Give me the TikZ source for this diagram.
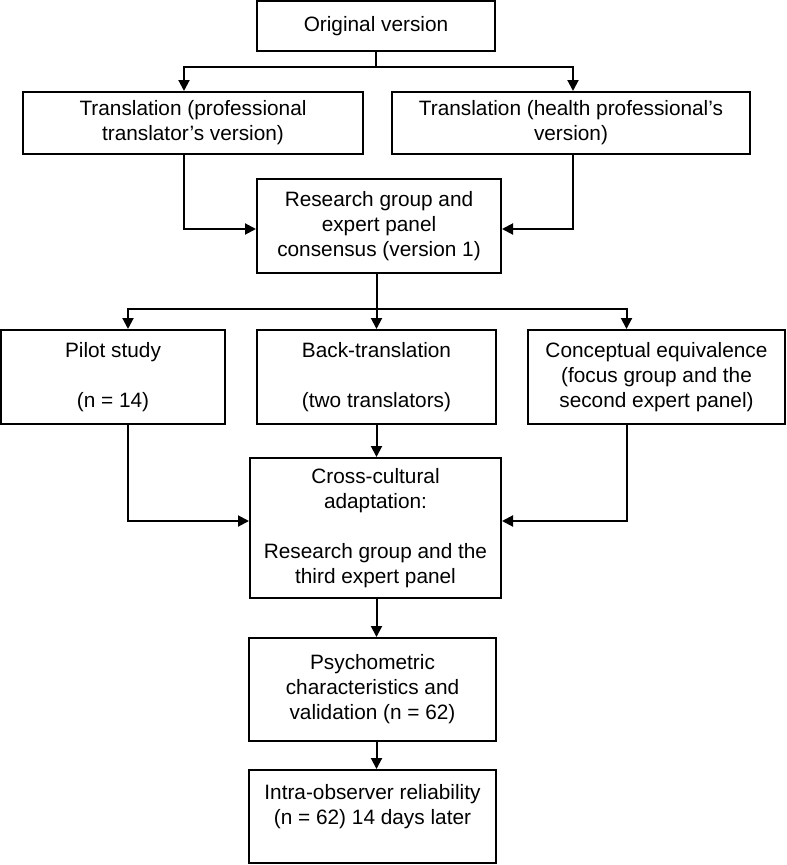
\documentclass[tikz,border=0pt]{standalone}
\usepackage{fontspec}
\setmainfont{Liberation Sans}
\usetikzlibrary{arrows.meta}
\begin{document}
\begin{tikzpicture}[x=1pt,y=-1pt,
  box/.style={draw, line width=2pt, align=center, inner sep=0pt, font=\fontsize{20.8}{25}\selectfont},
  arr/.style={line width=2pt, -{Triangle[length=11pt,width=11pt]}},
  ln/.style={line width=2pt}]
\useasboundingbox (0,0) rectangle (787,865);
\node[box, minimum width=238pt, minimum height=50pt] (orig) at (376,26) {\raisebox{5pt}{Original version}};
\node[box, minimum width=340pt, minimum height=62pt] (tl) at (193,123) {Translation (professional\\translator’s version)};
\node[box, minimum width=358pt, minimum height=62pt] (tr) at (571,123) {Translation (health professional’s\\version)};
\node[box, minimum width=244pt, minimum height=94pt] (res) at (379,226) {Research group and\\expert panel\\consensus (version 1)};
\node[box, minimum width=224pt, minimum height=94pt] (pilot) at (113,377) {Pilot study\\[25pt](n = 14)};
\node[box, minimum width=239pt, minimum height=94pt] (back) at (376.5,377) {Back-translation\\[25pt](two translators)};
\node[box, minimum width=257pt, minimum height=94pt] (conc) at (656.5,377) {Conceptual equivalence\\(focus group and the\\second expert panel)};
\node[box, minimum width=251pt, minimum height=140pt] (cross) at (375.5,528) {Cross-cultural\\adaptation:\\[25pt]Research group and the\\third expert panel};
\node[box, minimum width=247pt, minimum height=103pt] (psych) at (372.5,689.5) {Psychometric\\characteristics and\\validation (n = 62)};
\node[box, minimum width=247pt, minimum height=93pt] (intra) at (372.5,816.5) {Intra-observer reliability\\(n = 62) 14 days later\\~};
\coordinate (j1) at (376,67);
\coordinate (j2) at (376.5,309);
\coordinate (cx) at (376.5,0);
\draw[ln] (orig.south) -- (j1);
\draw[arr] (j1) -| ([xshift=-9pt]tl.north);
\draw[arr] (j1) -| ([xshift=2pt]tr.north);
\draw[arr] ([xshift=-9pt]tl.south) |- ([yshift=-3pt]res.west);
\draw[arr] ([xshift=2pt]tr.south) |- ([yshift=-3pt]res.east);
\draw[ln] (res.south -| j2) -- (j2);
\draw[arr] (j2) -| ([xshift=15pt]pilot.north);
\draw[arr] (j2) -- (back.north);
\draw[arr] (j2) -| ([xshift=-30pt]conc.north);
\draw[arr] (back.south) -- (back.south |- cross.north);
\draw[arr] ([xshift=15pt]pilot.south) |- ([yshift=7pt]cross.west);
\draw[arr] ([xshift=-30pt]conc.south) |- ([yshift=7pt]cross.east);
\draw[arr] (cross.south -| cx) -- (psych.north -| cx);
\draw[arr] (psych.south -| cx) -- (intra.north -| cx);
\end{tikzpicture}
\end{document}
